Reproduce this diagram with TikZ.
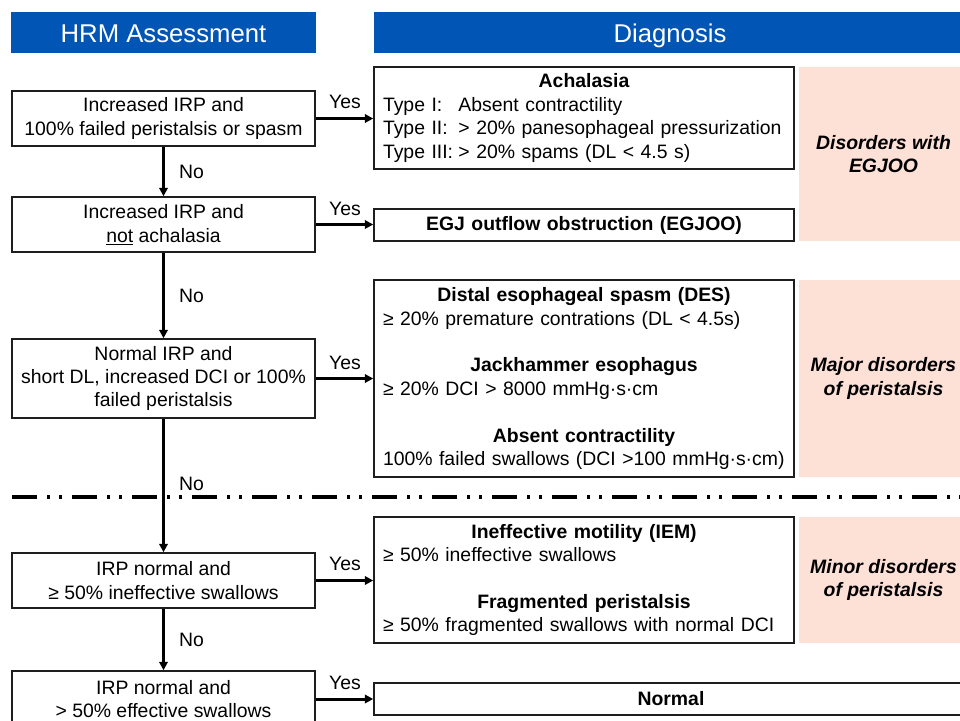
\documentclass[tikz,border=0pt]{standalone}
\usepackage{fontspec}
\setmainfont{Liberation Sans}
\usetikzlibrary{arrows.meta}
\definecolor{hdrblue}{HTML}{0055B5}
\definecolor{pinkc}{HTML}{FDE0D6}
\definecolor{boxc}{HTML}{1E1E1E}
\newcommand\myfs{\fontsize{19.4}{23.4}\selectfont}
\newcommand\hdl[1]{{\centering\bfseries #1\par}}
\newcommand\tp[1]{\makebox[3.89em][l]{#1}}
\begin{document}
\begin{tikzpicture}[x=1pt,y=-1pt,
  hdrbox/.style={fill=hdrblue, draw=none, text=white, inner sep=0pt,
    minimum height=41pt, text height=24pt, text depth=4pt,
    font=\fontsize{25.7}{30}\selectfont},
  lbox/.style={draw=boxc, line width=1.5pt, minimum width=303pt, inner sep=0pt,
    align=center, font=\myfs},
  rbox/.style={draw=boxc, line width=1.5pt, minimum width=420pt, inner sep=0pt,
    text width=402pt, align=left, font=\myfs,
    execute at begin node={\setlength\parindent{0pt}}},
  pinkbox/.style={fill=pinkc, draw=none, inner sep=0pt, minimum width=169pt,
    align=center, font=\myfs\bfseries\itshape},
  lbl/.style={inner sep=0pt, font=\myfs},
  arr/.style={line width=3pt, -{Triangle[length=8.5pt,width=8.5pt]}},
  sepline/.style={line width=4pt, dash pattern=on 25pt off 10pt on 3pt off 9pt on 3pt off 10pt}
]
\useasboundingbox (0,0) rectangle (960,720);

% headers
\node[hdrbox, minimum width=305pt] (hL) at (163.5,32.5) {HRM Assessment};
\node[hdrbox, minimum width=592pt] (hR) at (670,32.5) {Diagnosis};

% pink category boxes
\node[pinkbox, minimum height=174pt] (p1) at (883.5,154) {Disorders with\\EGJOO};
\node[pinkbox, minimum height=197pt] (p2) at (883.5,378.5) {Major disorders\\of peristalsis};
\node[pinkbox, minimum height=126pt] (p3) at (883.5,580) {Minor disorders\\of peristalsis};

% separator
\coordinate (sepL) at (12,497);
\coordinate (sepR) at (960,497);
\draw[sepline] (sepL) -- (sepR);

% left assessment boxes
\node[lbox, minimum height=55pt] (b1) at (163.5,118.5) {Increased IRP and\\100\% failed peristalsis or spasm};
\node[lbox, minimum height=55pt] (b2) at (163.5,224.5) {Increased IRP and\\\underline{not} achalasia};
\node[lbox, minimum height=79pt] (b3) at (163.5,378.5) {Normal IRP and\\short DL, increased DCI or 100\%\\failed peristalsis};
\node[lbox, minimum height=55pt] (b4) at (163.5,580.5) {IRP normal and\\≥ 50\% ineffective swallows};
\node[lbox, minimum height=56pt] (b5) at (163.5,699) {IRP normal and\\> 50\% effective swallows};

% diagnosis boxes
\node[rbox, minimum height=102pt] (ach) at (584,118) {%
\hdl{Achalasia}
\tp{Type I:}Absent contractility\par
\tp{Type II:}> 20\% panesophageal pressurization\par
\tp{Type III:}> 20\% spams (DL < 4.5 s)};
\node[rbox, minimum height=32pt] (egj) at (584,225) {\hdl{EGJ outflow obstruction (EGJOO)}};
\node[rbox, minimum height=197pt] (des) at (584,378.5) {%
\hdl{Distal esophageal spasm (DES)}
≥ 20\% premature contrations (DL < 4.5s)\par\mbox{}\par
\hdl{Jackhammer esophagus}
≥ 20\% DCI > 8000 mmHg·s·cm\par\mbox{}\par
\hdl{Absent contractility}
100\% failed swallows (DCI >100 mmHg·s·cm)};
\node[rbox, minimum height=126pt] (iem) at (584,580) {%
\hdl{Ineffective motility (IEM)}
≥ 50\% ineffective swallows\par\mbox{}\par
\hdl{Fragmented peristalsis}
≥ 50\% fragmented swallows with normal DCI};
\node[draw=boxc, line width=1.5pt, minimum width=594pt, minimum height=32pt, inner sep=0pt,
  font=\myfs\bfseries] (nrm) at (671,699) {Normal};

% vertical "No" arrows
\draw[arr] (b1.south) -- (b2.north);
\draw[arr] (b2.south) -- (b3.north);
\draw[arr] (b3.south) -- (b4.north);
\draw[arr] (b4.south) -- (b5.north);
\node[lbl, anchor=west] (no1) at (179,172) {No};
\node[lbl, anchor=west] (no2) at (179,296) {No};
\node[lbl, anchor=west] (no3) at (179,484) {No};
\node[lbl, anchor=west] (no4) at (179,640) {No};

% horizontal "Yes" arrows
\draw[arr] (b1.east) -- (b1.east -| ach.west);
\draw[arr] (b2.east) -- (b2.east -| egj.west);
\draw[arr] (b3.east) -- (b3.east -| des.west);
\draw[arr] (b4.east) -- (b4.east -| iem.west);
\draw[arr] (b5.east) -- (b5.east -| nrm.west);
\node[lbl] (y1) at (345,102) {Yes};
\node[lbl] (y2) at (345,209) {Yes};
\node[lbl] (y3) at (345,363) {Yes};
\node[lbl] (y4) at (345,564) {Yes};
\node[lbl] (y5) at (345,683) {Yes};
\end{tikzpicture}
\end{document}
